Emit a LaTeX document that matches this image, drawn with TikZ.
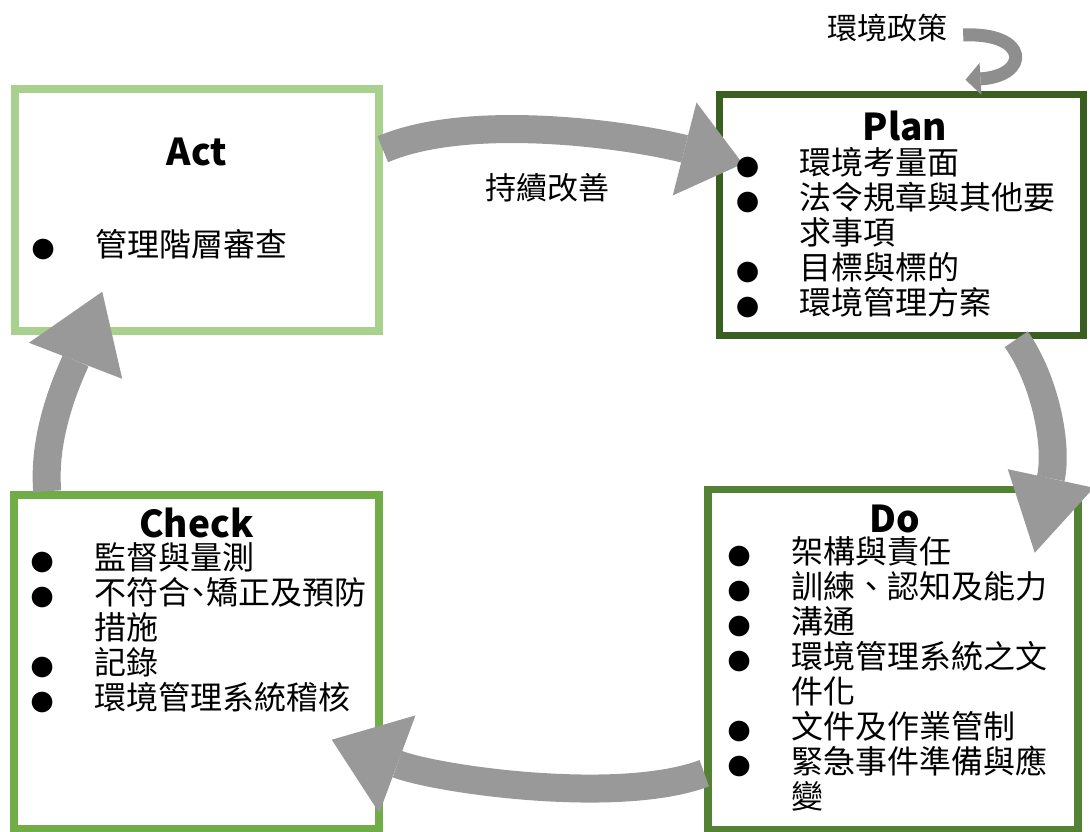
\documentclass[tikz,border=0pt]{standalone}
\usepackage{fontspec}
\setmainfont{Noto Sans CJK TC}
\newfontfamily\bulfont{DejaVu Sans}
\usetikzlibrary{arrows.meta,calc}

\definecolor{actgreen}{HTML}{A9D18E}
\definecolor{plangreen}{HTML}{3B5E21}
\definecolor{checkgreen}{HTML}{70AD47}
\definecolor{dogreen}{HTML}{548235}
\definecolor{arrowgray}{HTML}{999999}
\definecolor{policygray}{HTML}{8E8E8E}

\newcommand{\bul}{\makebox[64pt][l]{\bulfont\fontsize{27}{27}\selectfont ●}}
\newcommand{\ind}{\hspace*{64pt}}

\tikzset{
  phasebox/.style={draw=#1, line width=7.5pt, inner sep=0pt},
  phasetitle/.style={font=\fontsize{37}{40}\selectfont\bfseries, anchor=base, inner sep=0pt},
  phaselist/.style={font=\fontsize{32}{35}\selectfont, align=left, anchor=north west, inner sep=0pt},
  bigarrow/.style={draw=arrowgray, line width=28pt},
}

\begin{document}
\begin{tikzpicture}[x=1pt, y=-1pt]
\useasboundingbox (0,0) rectangle (1090,832);

% the four boxes
\node[phasebox=actgreen, minimum width=364pt, minimum height=242pt] (act) at (197,210) {};
\node[phasebox=plangreen, minimum width=364pt, minimum height=241pt] (plan) at (901.5,215) {};
\node[phasebox=checkgreen, minimum width=365pt, minimum height=334pt] (check) at (196.5,662) {};
\node[phasebox=dogreen, minimum width=370pt, minimum height=340pt] (do) at (893,659.5) {};

% the cycle
\draw[bigarrow, -{Triangle[length=60pt,width=96pt,line width=0pt]}]
  ($(act.north east)+(0,64)$) .. controls (470,112) and (630,135) .. ($(plan.north west)+(27,73)$);
\draw[bigarrow, -{Triangle[length=76pt,width=88pt,line width=0pt]}]
  ($(plan.south east)+(-71,0)$) .. controls (1045,380) and (1058,445) .. ($(do.north east)+(-47,67)$);
\draw[bigarrow, -{Triangle[length=70pt,width=104pt,line width=0pt]}]
  ($(do.south west)+(0,-60)$) .. controls (620,805) and (440,780) .. ($(check.south east)+(-51,-93)$);
\draw[bigarrow, -{Triangle[length=74pt,width=100pt,line width=0pt]}]
  ($(check.north west)+(37,0)$) .. controls (42,430) and (72,370) .. ($(act.south west)+(91,-43)$);

\node[font=\fontsize{30}{30}\selectfont, inner sep=0pt] (policy) at (887,28) {環境政策};
\draw[policygray, line width=13pt, -{Triangle[length=15pt,width=32pt,line width=0pt]}]
  ($(policy.east)+(16,7)$) .. controls (1030,32) and (1030,76) .. ($(plan.north)+(64,-11)$);

\node[font=\fontsize{31}{31}\selectfont, inner sep=0pt] (improve) at (547,188) {持續改善};

% titles
\node[phasetitle] (acttitle) at ($(act.north)+(0,80)$) {Act};
\node[phasetitle] (plantitle) at ($(plan.north)+(3.5,50)$) {Plan};
\node[phasetitle] (checktitle) at ($(check.north)+(0,46)$) {Check};
\node[phasetitle] (dotitle) at ($(do.north)+(2,47)$) {Do};

% lists
\node[phaselist] (actlist) at ($(act.north west)+(20,144)$) {\bul 管理階層審查};
\node[phaselist] (planlist) at ($(plan.north west)+(20,56)$) {\bul 環境考量面\\
  \bul 法令規章與其他要\\ \ind 求事項\\ \bul 目標與標的\\ \bul 環境管理方案};
\node[phaselist] (checklist) at ($(check.north west)+(20,51)$) {\bul 監督與量測\\
  \bul 不符合\makebox[16pt][c]{、}矯正及預防\\ \ind 措施\\ \bul 記錄\\ \bul 環境管理系統稽核};
\node[phaselist] (dolist) at ($(do.north west)+(23,51)$) {\bul 架構與責任\\
  \bul 訓練、認知及能力\\ \bul 溝通\\ \bul 環境管理系統之文\\ \ind 件化\\
  \bul 文件及作業管制\\ \bul 緊急事件準備與應\\ \ind 變};

\end{tikzpicture}
\end{document}
